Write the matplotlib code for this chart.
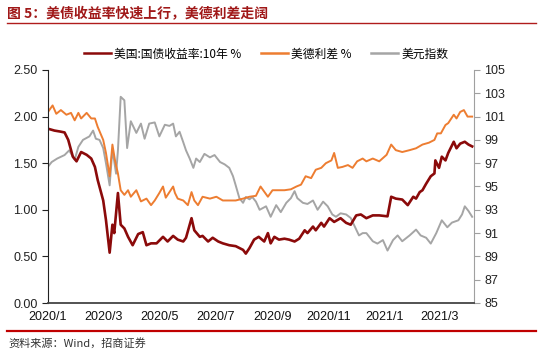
import numpy as np
import pandas as pd
import matplotlib
matplotlib.use("Agg")
import matplotlib.pyplot as plt
from matplotlib.lines import Line2D

plt.rcParams['font.family'] = ['Liberation Sans', 'Noto Sans CJK SC', 'DejaVu Sans']

# US 10Y treasury yield (%)
us10y_dates = ['2020-01-01', '2020-01-08', '2020-01-14', '2020-01-19', '2020-01-23', '2020-01-28',
               '2020-02-01', '2020-02-06', '2020-02-12', '2020-02-17', '2020-02-21', '2020-02-24',
               '2020-03-01', '2020-03-04', '2020-03-08', '2020-03-11', '2020-03-13', '2020-03-17',
               '2020-03-20', '2020-03-24', '2020-03-28', '2020-04-02', '2020-04-08', '2020-04-13',
               '2020-04-17', '2020-04-22', '2020-04-28', '2020-05-05', '2020-05-10', '2020-05-16',
               '2020-05-21', '2020-05-27', '2020-05-30', '2020-06-05', '2020-06-08', '2020-06-14',
               '2020-06-17', '2020-06-23', '2020-06-28', '2020-07-04', '2020-07-09', '2020-07-16',
               '2020-07-23', '2020-07-31', '2020-08-03', '2020-08-07', '2020-08-12', '2020-08-17',
               '2020-08-23', '2020-08-27', '2020-08-30', '2020-09-03', '2020-09-08', '2020-09-14',
               '2020-09-19', '2020-09-25', '2020-09-30', '2020-10-06', '2020-10-09', '2020-10-15',
               '2020-10-18', '2020-10-24', '2020-10-27', '2020-11-02', '2020-11-07', '2020-11-14',
               '2020-11-20', '2020-11-25', '2020-12-01', '2020-12-06', '2020-12-12', '2020-12-19',
               '2020-12-26', '2021-01-04', '2021-01-08', '2021-01-13', '2021-01-20', '2021-01-26',
               '2021-02-01', '2021-02-04', '2021-02-08', '2021-02-11', '2021-02-15', '2021-02-20',
               '2021-02-24', '2021-02-25', '2021-03-01', '2021-03-04', '2021-03-08', '2021-03-11',
               '2021-03-17', '2021-03-20', '2021-03-24', '2021-03-29', '2021-04-02', '2021-04-06']
us10y = [1.87, 1.85, 1.84, 1.83, 1.75, 1.57,
         1.52, 1.62, 1.59, 1.55, 1.46, 1.32,
         1.10, 0.89, 0.54, 0.84, 0.75, 1.18,
         0.84, 0.80, 0.71, 0.62, 0.74, 0.76,
         0.62, 0.64, 0.64, 0.71, 0.66, 0.72,
         0.68, 0.66, 0.70, 0.91, 0.78, 0.71,
         0.72, 0.66, 0.70, 0.66, 0.64, 0.62,
         0.61, 0.57, 0.53, 0.59, 0.68, 0.71,
         0.66, 0.75, 0.64, 0.71, 0.68, 0.69,
         0.68, 0.66, 0.69, 0.78, 0.75, 0.82,
         0.78, 0.86, 0.82, 0.91, 0.87, 0.91,
         0.86, 0.84, 0.94, 0.95, 0.91, 0.94,
         0.94, 0.93, 1.14, 1.12, 1.11, 1.05,
         1.14, 1.12, 1.19, 1.21, 1.28, 1.36,
         1.39, 1.53, 1.45, 1.57, 1.53, 1.61,
         1.73, 1.66, 1.71, 1.73, 1.70, 1.68]

# US-Germany spread (%)
spread_dates = ['2020-01-01', '2020-01-06', '2020-01-10', '2020-01-15', '2020-01-21', '2020-01-26',
                '2020-01-30', '2020-02-03', '2020-02-06', '2020-02-12', '2020-02-17', '2020-02-21',
                '2020-02-24', '2020-03-01', '2020-03-04', '2020-03-08', '2020-03-11', '2020-03-14',
                '2020-03-17', '2020-03-20', '2020-03-24', '2020-03-28', '2020-03-31', '2020-04-06',
                '2020-04-11', '2020-04-17', '2020-04-22', '2020-04-26', '2020-05-01', '2020-05-05',
                '2020-05-08', '2020-05-12', '2020-05-16', '2020-05-18', '2020-05-21', '2020-05-27',
                '2020-06-01', '2020-06-05', '2020-06-08', '2020-06-12', '2020-06-17', '2020-06-25',
                '2020-07-02', '2020-07-09', '2020-07-16', '2020-07-23', '2020-07-31', '2020-08-07',
                '2020-08-14', '2020-08-19', '2020-08-27', '2020-09-01', '2020-09-08', '2020-09-14',
                '2020-09-21', '2020-09-27', '2020-10-02', '2020-10-07', '2020-10-13', '2020-10-18',
                '2020-10-24', '2020-10-29', '2020-11-04', '2020-11-07', '2020-11-11', '2020-11-16',
                '2020-11-22', '2020-11-27', '2020-12-02', '2020-12-08', '2020-12-12', '2020-12-19',
                '2020-12-26', '2021-01-03', '2021-01-08', '2021-01-13', '2021-01-20', '2021-01-28',
                '2021-02-04', '2021-02-11', '2021-02-18', '2021-02-24', '2021-02-27', '2021-03-03',
                '2021-03-08', '2021-03-11', '2021-03-17', '2021-03-20', '2021-03-24', '2021-03-28',
                '2021-04-01', '2021-04-06']
spread = [2.05, 2.12, 2.03, 2.07, 2.02, 2.04,
          1.96, 2.04, 1.98, 2.04, 1.98, 1.98,
          1.89, 1.75, 1.61, 1.36, 1.70, 1.52,
          1.39, 1.21, 1.16, 1.21, 1.14, 1.21,
          1.09, 1.12, 1.05, 1.10, 1.18, 1.25,
          1.13, 1.19, 1.25, 1.18, 1.12, 1.10,
          1.05, 1.19, 1.10, 1.05, 1.14, 1.12,
          1.14, 1.10, 1.10, 1.10, 1.12, 1.14,
          1.15, 1.25, 1.14, 1.21, 1.21, 1.21,
          1.22, 1.25, 1.27, 1.36, 1.34, 1.43,
          1.45, 1.50, 1.53, 1.61, 1.45, 1.46,
          1.48, 1.45, 1.52, 1.55, 1.52, 1.55,
          1.52, 1.59, 1.70, 1.64, 1.62, 1.64,
          1.66, 1.70, 1.72, 1.75, 1.82, 1.82,
          1.91, 1.93, 2.02, 1.98, 2.05, 2.07,
          2.00, 2.00]

# US dollar index
dxy_dates = ['2020-01-01', '2020-01-05', '2020-01-11', '2020-01-19', '2020-01-24', '2020-01-30',
             '2020-02-03', '2020-02-08', '2020-02-15', '2020-02-19', '2020-02-22', '2020-02-26',
             '2020-03-01', '2020-03-04', '2020-03-08', '2020-03-11', '2020-03-15', '2020-03-17',
             '2020-03-20', '2020-03-24', '2020-03-27', '2020-03-31', '2020-04-06', '2020-04-11',
             '2020-04-15', '2020-04-20', '2020-04-26', '2020-05-01', '2020-05-07', '2020-05-12',
             '2020-05-16', '2020-05-19', '2020-05-23', '2020-05-27', '2020-05-30', '2020-06-03',
             '2020-06-07', '2020-06-10', '2020-06-14', '2020-06-19', '2020-06-25', '2020-06-30',
             '2020-07-06', '2020-07-11', '2020-07-16', '2020-07-20', '2020-07-23', '2020-07-27',
             '2020-07-31', '2020-08-03', '2020-08-07', '2020-08-10', '2020-08-14', '2020-08-18',
             '2020-08-25', '2020-08-30', '2020-09-05', '2020-09-10', '2020-09-16', '2020-09-21',
             '2020-09-25', '2020-09-28', '2020-10-04', '2020-10-09', '2020-10-15', '2020-10-20',
             '2020-10-26', '2020-10-31', '2020-11-05', '2020-11-09', '2020-11-14', '2020-11-20',
             '2020-11-25', '2020-12-01', '2020-12-04', '2020-12-08', '2020-12-12', '2020-12-19',
             '2020-12-24', '2020-12-30', '2021-01-04', '2021-01-10', '2021-01-15', '2021-01-20',
             '2021-01-28', '2021-02-04', '2021-02-09', '2021-02-15', '2021-02-20', '2021-02-26',
             '2021-03-04', '2021-03-10', '2021-03-15', '2021-03-22', '2021-03-26', '2021-03-29',
             '2021-04-02', '2021-04-06']
dxy = [96.7, 97.1, 97.4, 97.7, 98.1, 97.3,
       98.4, 99.0, 99.3, 99.8, 99.1, 99.0,
       98.3, 97.0, 95.1, 98.2, 96.1, 98.1,
       102.7, 102.4, 98.3, 100.6, 99.6, 100.4,
       99.1, 100.4, 100.5, 99.3, 100.3, 100.2,
       100.4, 99.3, 99.7, 98.8, 98.1, 97.4,
       96.6, 97.4, 97.1, 97.8, 97.5, 97.7,
       97.1, 96.9, 96.6, 95.9, 95.1, 94.0,
       93.6, 94.1, 93.9, 94.1, 93.7, 93.0,
       93.3, 92.4, 93.4, 92.8, 93.6, 94.0,
       94.6, 94.0, 93.6, 93.5, 93.8, 93.0,
       93.7, 93.3, 92.6, 92.4, 92.7, 92.6,
       92.3, 91.3, 90.8, 91.0, 91.0, 90.3,
       90.1, 90.4, 89.5, 90.4, 90.8, 90.3,
       90.8, 91.3, 90.8, 90.6, 90.1, 91.0,
       92.1, 91.5, 91.9, 92.1, 92.6, 93.3,
       92.9, 92.4]

x_ticks = ['2020-01-01', '2020-03-01', '2020-05-01', '2020-07-01', '2020-09-01',
           '2020-11-01', '2021-01-01', '2021-03-01']
x_labels = ['2020/1', '2020/3', '2020/5', '2020/7', '2020/9', '2020/11', '2021/1', '2021/3']

RED = '#8B0A0A'
ORANGE = '#ED7D31'
GREY = '#A5A5A5'

fig = plt.figure(figsize=(5.41, 3.53), dpi=100)
ax = fig.add_axes([48 / 541, 1 - 303 / 353, 426 / 541, 233 / 353])
ax2 = ax.twinx()
ax.set_zorder(ax2.get_zorder() + 1)
ax.patch.set_visible(False)

ax2.plot(pd.to_datetime(dxy_dates), dxy, color=GREY, lw=1.4)
ax.plot(pd.to_datetime(spread_dates), spread, color=ORANGE, lw=1.4)
ax.plot(pd.to_datetime(us10y_dates), us10y, color=RED, lw=1.9)

ax.set_ylim(0, 2.5)
ax.set_yticks(np.arange(0, 2.51, 0.5))
ax.set_yticklabels([f'{v:.2f}' for v in np.arange(0, 2.51, 0.5)])
ax2.set_ylim(85, 105)
ax2.set_yticks(np.arange(85, 106, 2))

ax.set_xlim(pd.Timestamp('2020-01-01'), pd.Timestamp('2021-04-08'))
ax.set_xticks(pd.to_datetime(x_ticks))
ax.set_xticklabels(x_labels)

for a in (ax, ax2):
    a.spines['top'].set_visible(False)
ax.spines['right'].set_visible(False)
ax.spines['left'].set_color('#222222')
ax.spines['bottom'].set_color('#444444')
ax.spines['bottom'].set_linewidth(1.3)
ax2.spines['left'].set_visible(False)
ax2.spines['bottom'].set_visible(False)
ax2.spines['right'].set_color('#A0A0A0')

ax.tick_params(axis='y', direction='out', length=4, width=0.8, labelsize=9, colors='#222222')
ax.tick_params(axis='x', length=0, labelsize=9, pad=6, colors='#111111')
ax2.tick_params(axis='y', direction='out', length=4, width=0.8, labelsize=9, color='#A0A0A0',
                labelcolor='#222222')

handles = [Line2D([], [], color=RED, lw=1.8),
           Line2D([], [], color=ORANGE, lw=1.8),
           Line2D([], [], color=GREY, lw=1.8)]
labels = ['美国:国债收益率:10年 %', '美德利差 %', '美元指数']
fig.legend(handles, labels, loc='center', bbox_to_anchor=(266 / 541, 1 - 54 / 353), ncol=3,
           frameon=False, handlelength=2.3, handletextpad=0.3, columnspacing=1.6,
           prop={'family': ['Noto Sans CJK SC', 'DejaVu Sans'], 'size': 8.5})

fig.text(7 / 541, 1 - 14 / 353, '图 5：美债收益率快速上行，美德利差走阔', fontsize=10,
         fontweight='bold', color='#A01818', va='center', ha='left',
         family=['Noto Sans CJK SC', 'DejaVu Sans'])
fig.add_artist(Line2D([7 / 541, 536 / 541], [1 - 23 / 353, 1 - 23 / 353], color='#B01C1C', lw=1.0))
fig.add_artist(Line2D([7 / 541, 536 / 541], [1 - 331 / 353, 1 - 331 / 353], color='#C00000', lw=1.6))
fig.text(8 / 541, 1 - 343 / 353, '资料来源：Wind，招商证券', fontsize=8, color='#333333',
         va='center', ha='left', family=['Noto Sans CJK SC', 'DejaVu Sans'])

fig.savefig('out.png', dpi=100)
